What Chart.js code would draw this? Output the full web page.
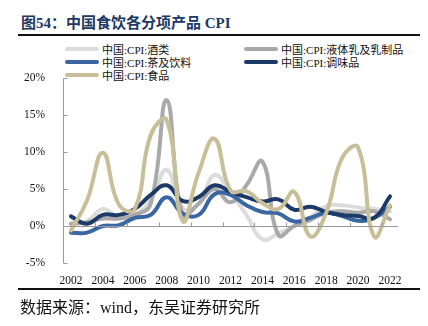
<!DOCTYPE html>
<html>
<head>
<meta charset="utf-8">
<script src="https://cdn.jsdelivr.net/npm/chart.js@4/dist/chart.umd.min.js"></script>
<style>
  html, body { margin: 0; padding: 0; background: #fff; }
  body { width: 428px; height: 326px; position: relative; overflow: hidden;
         font-family: "Liberation Serif", "Noto Sans CJK SC", serif; }
  .title { position: absolute; left: 21px; top: 11px; font-size: 15px; font-weight: bold;
           color: #203864; white-space: nowrap; }
  .rule { position: absolute; left: 18px; width: 402px; height: 2px; background: #111; }
  .source { position: absolute; left: 20px; top: 294px; font-size: 16px; color: #111; white-space: nowrap; }
  .chart-box { position: absolute; left: 0; top: 60px; width: 428px; height: 230px; }
  #legend { position: absolute; left: 0; top: 41px; width: 428px; height: 42px; }
  .item { position: absolute; display: flex; align-items: center; font-size: 11px; color: #111; white-space: nowrap; }
  .swatch { width: 34px; height: 4px; border-radius: 2px; margin-right: 3px; }
</style>
</head>
<body>
<div class="title">图54：中国食饮各分项产品 CPI</div>
<div class="rule" style="top: 34px;"></div>
<div id="legend"></div>
<div class="chart-box"><canvas id="cpiChart"></canvas></div>
<div class="rule" style="top: 288px;"></div>
<div class="source">数据来源：wind，东吴证券研究所</div>

<script>
// 年份
const years = ['2002','2003','2004','2005','2006','2007','2008','2009','2010','2011','2012',
               '2013','2014','2015','2016','2017','2018','2019','2020','2021','2022'];

// 各分项CPI同比（%）
const cpiJiulei  = [0.3, 0.6, 2.3, 1.2, 1.5, 3.5, 7.6, 2.4, 3.0, 6.9, 4.5, 1.5, -1.8, -1.0, 0.0, 1.2, 2.7, 2.8, 2.5, 2.3, 2.0];
const cpiRuzhipin = [0.3, 0.5, 1.0, 1.0, 1.5, 3.0, 17.0, 1.5, 3.0, 5.0, 3.2, 5.5, 8.7, -1.2, 0.0, 0.8, 1.8, 2.0, 1.8, 2.0, 0.9];
const cpiChayin  = [-0.9, -0.9, 0.0, 0.1, 1.1, 1.5, 3.9, 1.7, 1.5, 4.3, 4.2, 2.8, 1.9, 1.7, 0.6, 1.1, 1.8, 1.35, 0.7, 1.1, 2.6];
const cpiTiaowei = [1.3, 0.3, 1.5, 1.5, 2.3, 4.2, 5.5, 3.4, 3.9, 5.5, 4.6, 3.9, 3.3, 3.6, 2.2, 2.6, 1.9, 1.5, 1.35, 1.1, 4.0];
const cpiShipin  = [-0.6, 3.4, 9.9, 2.9, 2.3, 12.3, 14.3, 0.7, 7.2, 11.8, 4.8, 4.7, 3.1, 2.3, 4.6, -1.4, 1.8, 9.2, 10.6, -1.4, 2.8];

const yTicks = [-5, 0, 5, 10, 15, 20];

const seriesNames = ['中国:CPI:酒类', '中国:CPI:液体乳及乳制品', '中国:CPI:茶及饮料', '中国:CPI:调味品', '中国:CPI:食品'];
const seriesData = [cpiJiulei, cpiRuzhipin, cpiChayin, cpiTiaowei, cpiShipin];
const seriesColors = ['#dcdcdc', '#a9a9a9', '#3a67a3', '#1b3a68', '#c8bf98'];

const serif = '"Liberation Serif", "Noto Sans CJK SC", serif';

// 坐标轴：y轴线、向内刻度、0%横线及其刻度
const axisLines = {
    id: 'axisLines',
    afterDatasetsDraw(chart) {
        const { ctx, chartArea, scales: { x, y } } = chart;
        ctx.save();
        ctx.strokeStyle = '#9a9a9a';
        ctx.lineWidth = 1;
        ctx.beginPath();
        const ax = Math.round(chartArea.left) + 0.5;
        ctx.moveTo(ax, y.getPixelForValue(20));
        ctx.lineTo(ax, y.getPixelForValue(-5));
        yTicks.forEach(v => {
            const py = Math.round(y.getPixelForValue(v)) + 0.5;
            ctx.moveTo(ax, py);
            ctx.lineTo(ax + 4, py);
        });
        const zy = Math.round(y.getPixelForValue(0)) + 0.5;
        ctx.moveTo(chartArea.left, zy);
        ctx.lineTo(chartArea.right, zy);
        const half = (x.getPixelForValue(1) - x.getPixelForValue(0)) / 2;
        for (let i = 0; i <= years.length; i += 2) {
            const px = Math.round(x.getPixelForValue(i) - half) + 0.5;
            ctx.moveTo(px, zy);
            ctx.lineTo(px, zy - 4);
        }
        ctx.stroke();
        ctx.restore();
    }
};

const chart = new Chart(document.getElementById('cpiChart').getContext('2d'), {
    type: 'line',
    data: {
        labels: years,
        datasets: seriesNames.map((name, i) => ({
            label: name,
            data: seriesData[i],
            borderColor: seriesColors[i],
            backgroundColor: seriesColors[i],
            borderWidth: 4,
            tension: 0.45,
            pointRadius: 0,
            borderCapStyle: 'round',
            borderJoinStyle: 'round',
            order: seriesNames.length - i
        }))
    },
    options: {
        responsive: true,
        maintainAspectRatio: false,
        animation: false,
        layout: { padding: { left: 0, top: 18, right: 30, bottom: 0 } },
        plugins: {
            legend: { display: false },
            tooltip: { enabled: false }
        },
        scales: {
            x: {
                type: 'category',
                offset: true,
                grid: { display: false },
                border: { display: false },
                ticks: {
                    autoSkip: false,
                    maxRotation: 0,
                    padding: 3,
                    color: '#111',
                    font: { family: serif, size: 11.5 },
                    callback: function (v, i) {
                        return i % 2 === 0 ? this.getLabelForValue(v) : '';
                    }
                },
                afterFit: s => { s.height = 27; }
            },
            y: {
                min: -5,
                max: 20,
                grid: { display: false },
                border: { display: false },
                ticks: {
                    stepSize: 5,
                    padding: 10,
                    color: '#111',
                    font: { family: serif, size: 11.5 },
                    callback: v => v + '%'
                },
                afterFit: s => { s.width = 63; }
            }
        }
    },
    plugins: [axisLines]
});

// 图例：两列排列
const legendBox = document.getElementById('legend');
chart.data.datasets.forEach((ds, i) => {
    const item = document.createElement('div');
    item.className = 'item';
    item.style.left = (i % 2 === 0 ? 65 : 244) + 'px';
    item.style.top = (Math.floor(i / 2) * 13) + 'px';
    const sw = document.createElement('span');
    sw.className = 'swatch';
    sw.style.background = ds.borderColor;
    const txt = document.createElement('span');
    txt.textContent = ds.label;
    item.appendChild(sw);
    item.appendChild(txt);
    legendBox.appendChild(item);
});
</script>
</body>
</html>
